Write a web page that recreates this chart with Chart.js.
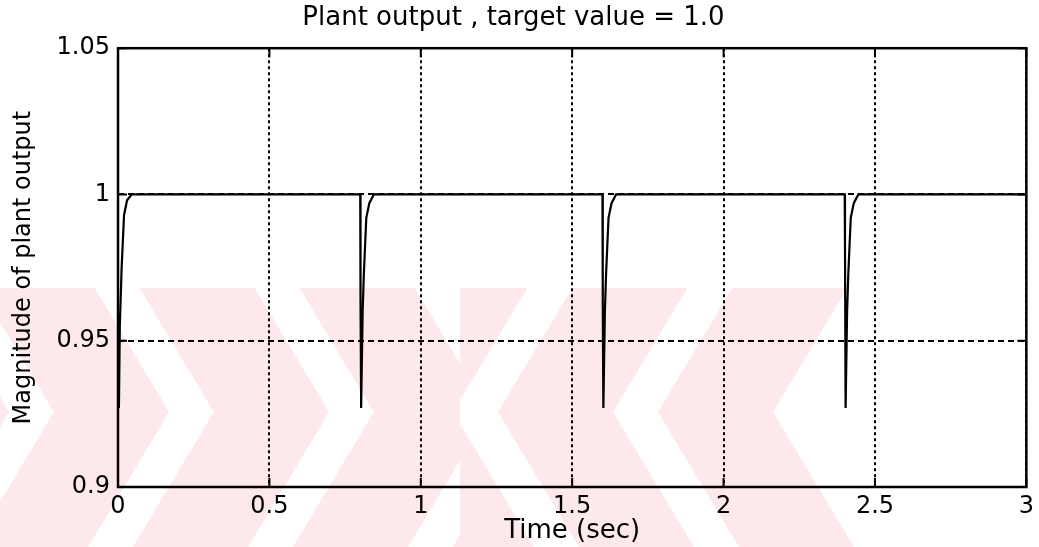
<!DOCTYPE html>
<html>
<head>
<meta charset="utf-8">
<script src="https://cdn.jsdelivr.net/npm/chart.js@4.4.1/dist/chart.umd.min.js"></script>
<style>
  html, body { margin: 0; padding: 0; background: #fff; }
  #wrap { width: 1039px; height: 547px; }
</style>
</head>
<body>
<div id="wrap"><canvas id="plant" width="1039" height="547"></canvas></div>
<script>
// plant response: a short dip at every setpoint disturbance, then recovery to 1
var timeSec = [
    0, 0.003, 0.006, 0.012, 0.02, 0.03, 0.045,
    0.8, 0.801, 0.803, 0.808, 0.812, 0.82, 0.83, 0.845,
    1.6, 1.601, 1.603, 1.608, 1.612, 1.62, 1.63, 1.645,
    2.4, 2.401, 2.403, 2.408, 2.412, 2.42, 2.43, 2.445,
    3.0
];
var plantOut = [
    0.958, 0.927, 0.955, 0.975, 0.993, 0.998, 1.0,
    1.0, 0.963, 0.927, 0.96, 0.973, 0.992, 0.997, 1.0,
    1.0, 0.963, 0.927, 0.96, 0.973, 0.992, 0.997, 1.0,
    1.0, 0.982, 0.927, 0.96, 0.973, 0.992, 0.997, 1.0,
    1.0
];
var xTicks = [0, 0.5, 1, 1.5, 2, 2.5, 3];
var yTicks = [0.9, 0.95, 1, 1.05];

var FONT = 'DejaVu Sans';

// pale pink chevron stamp behind the plot
var stampBg = {
    id: 'stampBg',
    beforeDraw: function (chart) {
        var ctx = chart.ctx;
        var top = 288, bot = 547, yv = 412, k = 0.6, split = 460;
        ctx.save();
        ctx.fillStyle = '#fff';
        ctx.fillRect(0, 0, chart.width, chart.height);
        ctx.fillStyle = '#fde8ec';

        // left half: ">" shaped bands
        ctx.save();
        ctx.beginPath();
        ctx.rect(0, top, split, bot - top);
        ctx.clip();
        var left = [[-106, 9], [54, 169], [214, 329], [374, 489], [534, 649]];
        left.forEach(function (b) {
            ctx.beginPath();
            ctx.moveTo(b[0] - k * (yv - top), top);
            ctx.lineTo(b[0], yv);
            ctx.lineTo(b[0] - k * (bot - yv), bot);
            ctx.lineTo(b[1] - k * (bot - yv), bot);
            ctx.lineTo(b[1], yv);
            ctx.lineTo(b[1] - k * (yv - top), top);
            ctx.closePath();
            ctx.fill();
        });
        ctx.restore();

        // right half: "<" shaped bands
        ctx.save();
        ctx.beginPath();
        ctx.rect(split, top, chart.width - split, bot - top);
        ctx.clip();
        var right = [[338, 453], [498, 613], [658, 773]];
        right.forEach(function (b) {
            ctx.beginPath();
            ctx.moveTo(b[0] + k * (yv - top), top);
            ctx.lineTo(b[0], yv);
            ctx.lineTo(b[0] + k * (bot - yv), bot);
            ctx.lineTo(b[1] + k * (bot - yv), bot);
            ctx.lineTo(b[1], yv);
            ctx.lineTo(b[1] + k * (yv - top), top);
            ctx.closePath();
            ctx.fill();
        });
        ctx.restore();
        ctx.restore();
    }
};

// solid box round the axes with short inward tick marks
var axesBox = {
    id: 'axesBox',
    afterDatasetsDraw: function (chart) {
        var ctx = chart.ctx, a = chart.chartArea;
        var sx = chart.scales.x, sy = chart.scales.y, len = 9;
        ctx.save();
        ctx.strokeStyle = '#000';
        ctx.lineWidth = 2.5;
        ctx.strokeRect(a.left, a.top, a.right - a.left, a.bottom - a.top);
        ctx.lineWidth = 2;
        ctx.beginPath();
        xTicks.forEach(function (v) {
            var px = sx.getPixelForValue(v);
            ctx.moveTo(px, a.bottom); ctx.lineTo(px, a.bottom - len);
            ctx.moveTo(px, a.top); ctx.lineTo(px, a.top + len);
        });
        yTicks.forEach(function (v) {
            var py = sy.getPixelForValue(v);
            ctx.moveTo(a.left, py); ctx.lineTo(a.left + len, py);
            ctx.moveTo(a.right, py); ctx.lineTo(a.right - len, py);
        });
        ctx.stroke();
        ctx.restore();
    }
};

var points = timeSec.map(function (t, i) { return { x: t, y: plantOut[i] }; });

var ctxPlant = document.getElementById('plant').getContext('2d');
var plantChart = new Chart(ctxPlant, {
    type: 'line',
    plugins: [stampBg, axesBox],
    data: {
        datasets: [{
            data: points,
            borderColor: '#000',
            borderWidth: 2.2,
            pointRadius: 0,
            tension: 0
        }]
    },
    options: {
        responsive: false,
        animation: false,
        layout: { padding: { top: 0, right: 12, bottom: 0, left: 0 } },
        plugins: {
            legend: { display: false },
            tooltip: { enabled: false },
            title: {
                display: true,
                text: 'Plant output , target value = 1.0',
                color: '#000',
                font: { family: FONT, size: 26, weight: 'normal' },
                padding: { top: 3, bottom: 14 }
            }
        },
        scales: {
            x: {
                type: 'linear',
                min: 0,
                max: 3,
                afterBuildTicks: function (s) { s.ticks = xTicks.map(function (v) { return { value: v }; }); },
                afterFit: function (s) { s.height = 60; },
                ticks: {
                    color: '#000',
                    font: { family: FONT, size: 24 },
                    padding: 5,
                    maxRotation: 0,
                    autoSkip: false,
                    callback: function (v) { return String(v); }
                },
                grid: { color: '#000', lineWidth: 2, drawTicks: false },
                border: { display: false, dash: [3, 3] },
                title: {
                    display: true,
                    text: 'Time (sec)',
                    color: '#000',
                    font: { family: FONT, size: 26 },
                    padding: { top: 7, bottom: 0 }
                }
            },
            y: {
                type: 'linear',
                min: 0.9,
                max: 1.05,
                afterBuildTicks: function (s) { s.ticks = yTicks.map(function (v) { return { value: v }; }); },
                afterFit: function (s) { s.width = 118; },
                ticks: {
                    color: '#000',
                    font: { family: FONT, size: 24 },
                    padding: 8,
                    autoSkip: false,
                    callback: function (v) { return String(v); }
                },
                grid: { color: '#000', lineWidth: 2, drawTicks: false },
                border: { display: false, dash: [6, 4] },
                title: {
                    display: true,
                    text: 'Magnitude of plant output',
                    color: '#000',
                    font: { family: FONT, size: 24 },
                    padding: { top: 9, bottom: 0 }
                }
            }
        }
    }
});
</script>
</body>
</html>
